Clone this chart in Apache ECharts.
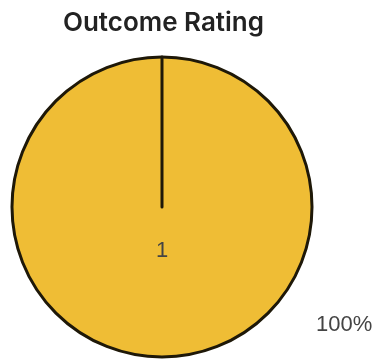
<!DOCTYPE html>
<html>
<head>
<meta charset="utf-8">
<script src="https://cdn.jsdelivr.net/npm/echarts@6/dist/echarts.min.js"></script>
<style>
html,body{margin:0;padding:0;background:#fff;}
#chart{width:377px;height:360px;}
</style>
</head>
<body>
<div id="chart"></div>
<script>
const chartTitle = 'Outcome Rating';
const categories = ['1'];
const values = [1];

const sliceColors = ['#EFBD35'];

const chart = echarts.init(document.getElementById('chart'), null, {renderer: 'canvas'});

const mainData = categories.map((c, i) => ({
  name: c, value: values[i],
  itemStyle: {color: sliceColors[i % sliceColors.length]}
}));
// zero-width boundary slice to draw the radial edge of the full slice
const boundary = {name: '', value: 0, label: {show: false}, itemStyle: {color: 'transparent'}};

const pieCenter = [162, 207];
const pieRadius = 150;

const option = {
  animation: false,
  title: {
    text: chartTitle,
    left: 163.5,
    top: 9,
    padding: 0,
    textAlign: 'center',
    textStyle: {fontFamily: 'Inter', fontSize: 26, fontWeight: 600, color: '#222', lineHeight: 28}
  },
  series: [
    {
      type: 'pie',
      center: pieCenter,
      radius: pieRadius,
      startAngle: 90,
      clockwise: true,
      silent: true,
      emphasis: {disabled: true},
      avoidLabelOverlap: false,
      itemStyle: {borderColor: '#1e1808', borderWidth: 3},
      label: {
        show: true, position: 'center', formatter: '{b}', offset: [0, 44],
        fontFamily: 'Liberation Sans', fontSize: 22, color: '#444'
      },
      labelLine: {show: false},
      data: mainData.concat([boundary])
    },
    {
      type: 'pie',
      center: pieCenter,
      radius: pieRadius,
      startAngle: 90,
      silent: true,
      emphasis: {disabled: true},
      itemStyle: {color: 'transparent', borderWidth: 0},
      label: {
        show: true, position: 'outside', formatter: '{d}%',
        fontFamily: 'Liberation Sans', fontSize: 22, color: '#444'
      },
      labelLine: {show: false},
      labelLayout: {x: 316, y: 325, align: 'left', verticalAlign: 'middle'},
      data: categories.map((c, i) => ({name: c, value: values[i]}))
    }
  ]
};
chart.setOption(option);
</script>
</body>
</html>
